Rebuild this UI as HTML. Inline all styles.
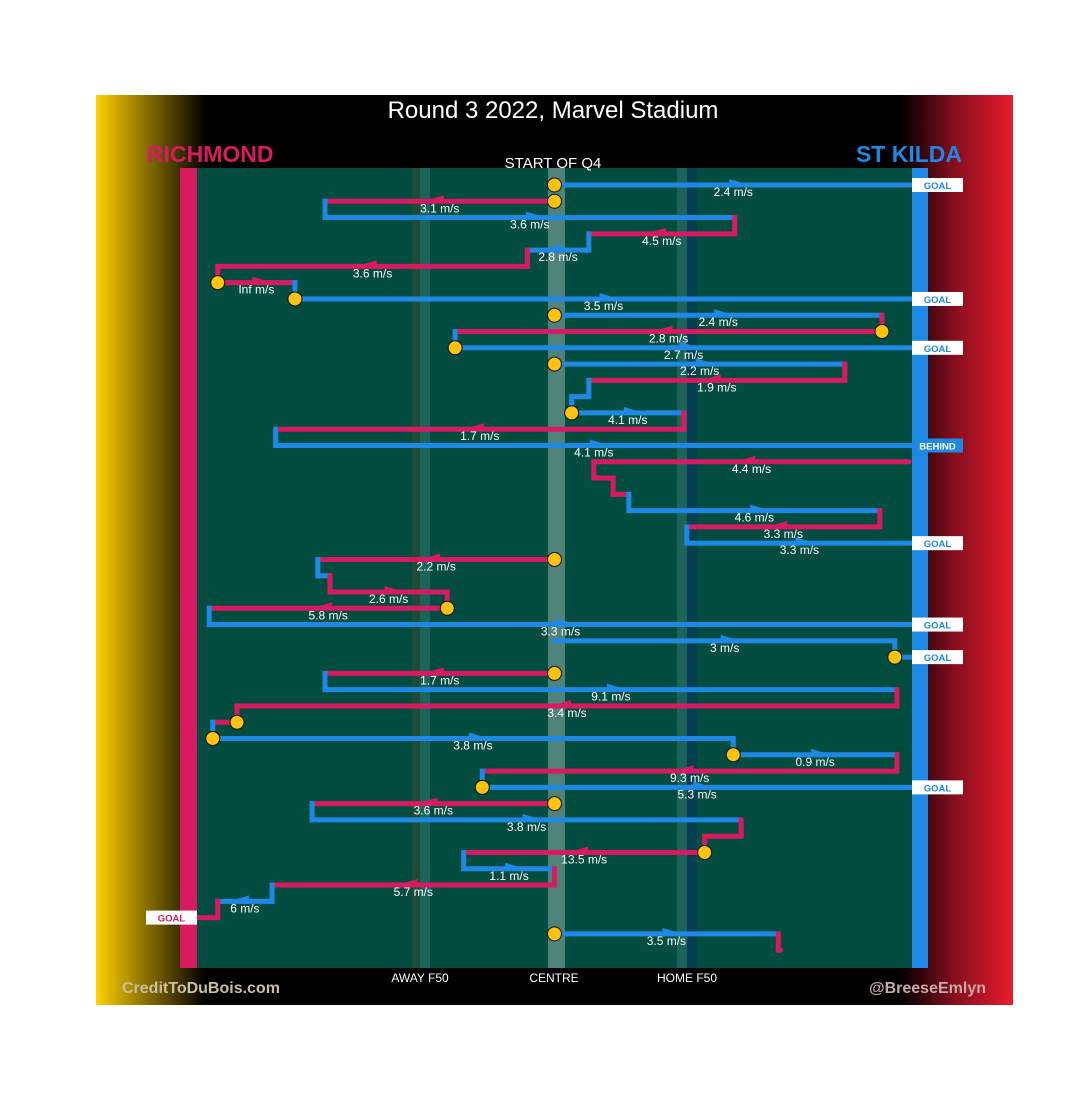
<!DOCTYPE html>
<html><head><meta charset="utf-8"><style>
html,body{margin:0;padding:0;background:#fff;}
svg{display:block;font-family:"Liberation Sans",sans-serif;}
</style></head><body>
<svg id="chart" width="1080" height="1115">
<defs>
<linearGradient id="lg" x1="0" x2="1"><stop offset="0" stop-color="#ffd200"/><stop offset="0.45" stop-color="#8a7000"/><stop offset="1" stop-color="#000"/></linearGradient>
<linearGradient id="rg" x1="0" x2="1"><stop offset="0" stop-color="#000"/><stop offset="0.5" stop-color="#8a0f1e"/><stop offset="1" stop-color="#e81c2e"/></linearGradient>
</defs>
<rect x="96" y="95" width="917" height="910" fill="#000"/>
<rect x="96" y="95" width="110" height="910" fill="url(#lg)"/>
<rect x="900" y="95" width="113" height="910" fill="url(#rg)"/>
<rect x="197" y="168" width="715" height="800" fill="#034d40"/>
<rect x="412" y="168" width="8" height="800" fill="#1f4a3e"/>
<rect x="420" y="168" width="10" height="800" fill="#1c6358"/>
<rect x="548" y="168" width="17" height="800" fill="#4f8379"/>
<rect x="677" y="168" width="10" height="800" fill="#1c6358"/>
<rect x="687" y="168" width="10" height="800" fill="#053f52"/>
<rect x="180" y="168" width="17" height="800" fill="#d81b60"/>
<rect x="912" y="168" width="16" height="800" fill="#1e88e5"/>
<text x="553" y="118" fill="#fff" font-size="24" text-anchor="middle">Round 3 2022, Marvel Stadium</text>
<text x="147" y="162" fill="#d81b60" font-size="23" font-weight="bold">RICHMOND</text>
<text x="962" y="162" fill="#1e88e5" font-size="23" font-weight="bold" text-anchor="end">ST KILDA</text>
<text x="553" y="168" fill="#fff" font-size="15" text-anchor="middle">START OF Q4</text>
<text x="420" y="982" fill="#fff" font-size="12" text-anchor="middle">AWAY F50</text>
<text x="554" y="982" fill="#fff" font-size="12" text-anchor="middle">CENTRE</text>
<text x="687" y="982" fill="#fff" font-size="12" text-anchor="middle">HOME F50</text>
<text x="122" y="993" fill="#c8c0a0" font-size="16" font-weight="bold">CreditToDuBois.com</text>
<text x="986" y="993" fill="#c8a8a8" font-size="16" font-weight="bold" text-anchor="end">@BreeseEmlyn</text>
<g id="marks"></g>
</svg>
<script>
// Each segment: row index, start x, end x (0 = Richmond goal, 100 = St Kilda goal)
const segRows  = [0,1,2,3,4,5,6,7,8,9,10,11,12,13,14,15,16,17,18,19,20,21,22,23,24,25,26,27,28,29,30,31,32,33,34,35,36,37,38,39,40,41,42,43,44,45,46,47];
const segFrom  = [50,50,17.9,75.2,54.8,46.2,2.9,13.7,50,95.8,36.1,50,90.6,54.8,52.4,68.1,11.0,99.6,55.5,58.2,60.4,95.5,68.5,50,16.9,18.6,35.0,1.7,50,97.6,50,17.9,97.9,5.6,2.2,75.0,97.9,39.9,50,16.1,76.1,71.0,37.3,50,10.5,2.9,50,81.3];
const segTo    = [100,17.9,75.2,54.8,46.2,2.9,13.7,100,95.8,36.1,100,90.6,54.8,52.4,68.1,11.0,100,55.5,58.2,60.4,95.5,68.5,100,16.9,18.6,35.0,1.7,100,97.6,100,17.9,97.9,5.6,2.2,75.0,97.9,39.9,100,16.1,76.1,71.0,37.3,50,10.5,2.9,0,81.3,81.6];
const segTeam  = ["S","R","S","R","S","R","R","S","S","R","S","S","R","S","S","R","S","R","R","R","S","R","S","R","S","R","R","S","S","S","R","S","R","R","S","S","R","S","R","S","R","R","S","R","S","R","S","R"];
const segSpeed = ["2.4","3.1","3.6","4.5","2.8","3.6","Inf","3.5","2.4","2.8","2.7","2.2","1.9","","4.1","1.7","4.1","4.4","","","4.6","3.3","3.3","2.2","","2.6","5.8","3.3","3","","1.7","9.1","3.4","","3.8","0.9","9.3","5.3","3.6","3.8","","13.5","1.1","5.7","6","","3.5",""];
const segMarker= [1,1,0,0,0,0,1,1,1,1,1,1,0,0,1,0,0,0,0,0,0,0,0,1,0,0,1,0,0,1,1,0,0,1,1,1,0,1,1,0,0,1,0,0,0,0,1,0];
const segOutcome=["GOAL","","","","","","","GOAL","","","GOAL","","","","","","BEHIND","","","","","","GOAL","","","","","GOAL","","GOAL","","","","","","","","GOAL","","","","","","","","GOAL","",""];

const xS = v => 197 + v * 7.15;
const yS = r => 185 + r * 16.28;
const NS = "http://www.w3.org/2000/svg";
const g = document.getElementById("marks");
const col = t => t === "R" ? "#d81b60" : "#1e88e5";
function mk(tag, attrs){const e=document.createElementNS(NS,tag);for(const k in attrs)e.setAttribute(k,attrs[k]);g.appendChild(e);return e;}

const markerEls = [];
for (let i = 0; i < segRows.length; i++) {
  const y = yS(segRows[i]), x1 = xS(segFrom[i]), x2 = xS(segTo[i]), c = col(segTeam[i]);
  if (i > 0 && segRows[i] === segRows[i-1] + 1 && Math.abs(segTo[i-1] - segFrom[i]) < 0.3) {
    const v = mk("line",{x1:x1,y1:yS(segRows[i-1]),x2:x1,y2:y,stroke:c,"stroke-width":5,"stroke-linecap":"square"});
    
    
  }
  const l = mk("line",{x1:x1,y1:y,x2:x2,y2:y,stroke:c,"stroke-width":5,"stroke-linecap":"round"});
  
  
  if (segSpeed[i] !== "") {
    const mx = (x1 + x2) / 2, d = x2 > x1 ? 1 : -1;
    const a = mk("polygon",{points:`${mx+d*16},${y} ${mx-d*4},${y-6} ${mx-d*4},${y+2}`,fill:c});
    
    
    const t = mk("text",{x:mx,y:y+11,fill:"#fff","font-size":12,"text-anchor":"middle"});
    t.textContent = segSpeed[i] + " m/s";
    
    
  }
  if (segMarker[i]) markerEls.push([x1, y]);
  if (segOutcome[i] !== "") {
    const left = segTo[i] < 50;
    const bx = left ? 146 : 912, bg = segOutcome[i] === "BEHIND" ? "#1e88e5" : "#fff";
    const r = mk("rect",{x:bx,y:y-7,width:51,height:14,fill:bg});
    
    
    const t = mk("text",{x:bx+25.5,y:y+4,fill:segOutcome[i]==="BEHIND"?"#fff":(left?"#d81b60":"#1e88e5"),"font-size":9.5,"font-weight":"bold","text-anchor":"middle"});
    t.textContent = segOutcome[i];
    
    
  }
}
for (const [x, y] of markerEls) {
  const m = mk("circle",{cx:x,cy:y,r:7,fill:"#ffc20e",stroke:"#111","stroke-width":1});
  
  
}
</script>
</body></html>
